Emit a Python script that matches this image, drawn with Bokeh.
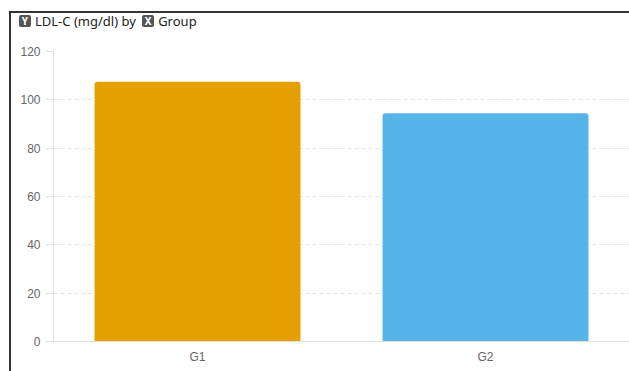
from bokeh.plotting import figure
from bokeh.models import ColumnDataSource, Div, FactorRange, Range1d, SingleIntervalTicker
from bokeh.layouts import column
from bokeh.embed import file_html
from bokeh.resources import INLINE

groups = ["G1", "G2"]
ldl_values = [107.5, 94.5]
bar_colors = ["#E69F00", "#56B4E9"]
y_ticks = [0, 20, 40, 60, 80, 100, 120]

src = ColumnDataSource(dict(group=groups, value=ldl_values, color=bar_colors))

icon = ("display:inline-block;background:#555555;color:#fff;font-size:10px;font-weight:bold;"
        "width:12px;height:12px;line-height:12px;text-align:center;border-radius:2px;"
        "vertical-align:1px;margin-right:4px;")
title_html = (f'<div style="font-family:\'Noto Sans\',\'Open Sans\',sans-serif;font-size:13px;color:#222;'
              f'white-space:nowrap;line-height:17px;padding-left:8px;">'
              f'<span style="{icon}">Y</span>LDL-C (mg/dl) by '
              f'<span style="{icon}margin-left:3px;">X</span>Group</div>')
title = Div(text=title_html, width=618, height=17, margin=(0, 0, 0, 0))

p = figure(x_range=FactorRange(*groups, range_padding=0), y_range=Range1d(0, 120),
           width=618, height=341, output_backend="svg", toolbar_location=None,
           min_border_left=42, min_border_right=0, min_border_top=21, min_border_bottom=30,
           margin=(0, 0, 0, 0))
p.outline_line_color = None
p.vbar(x="group", top="value", width=0.715, color="color", source=src,
       line_color=None, border_radius=(3, 3, 0, 0))

p.xgrid.grid_line_color = None
p.ygrid.grid_line_color = "#e3e3e3"
p.ygrid.grid_line_dash = "4 3"
p.ygrid.ticker = SingleIntervalTicker(interval=20)

p.yaxis.ticker = y_ticks
p.yaxis.axis_line_color = "#e0e0e0"
p.yaxis.major_tick_line_color = "#e0e0e0"
p.yaxis.major_tick_out = 8
p.yaxis.major_tick_in = 0
p.yaxis.minor_tick_line_color = None
p.yaxis.major_label_standoff = 5
p.yaxis.major_label_text_font = "Liberation Sans"
p.yaxis.major_label_text_font_size = "12px"
p.yaxis.major_label_text_color = "#666666"

p.xaxis.axis_line_color = "#e0e0e0"
p.xaxis.major_tick_line_color = None
p.xaxis.major_tick_out = 0
p.xaxis.major_tick_in = 0
p.xaxis.minor_tick_line_color = None
p.xaxis.major_label_standoff = 8
p.xaxis.major_label_text_font = "Liberation Sans"
p.xaxis.major_label_text_font_size = "12px"
p.xaxis.major_label_text_color = "#666666"

layout = column(title, p, spacing=0, margin=(11, 0, 0, 9),
                styles={"border-left": "2px solid #333", "border-top": "2px solid #333"})

open("out.html", "w").write(file_html(layout, INLINE))
